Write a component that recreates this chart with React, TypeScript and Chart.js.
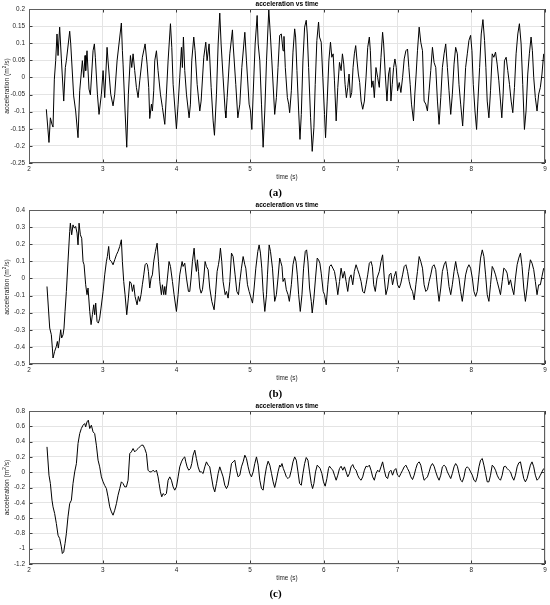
import React, { useEffect, useRef } from "react";
import { Chart, registerables } from "chart.js";
Chart.register(...registerables);

const titleText = "acceleration vs time";
const xLabel = "time (s)";
const yLabelParts = ["acceleration (m", "2", "/s)"];
const panelLabels = ["(a)", "(b)", "(c)"];

const xTicks = [2, 3, 4, 5, 6, 7, 8, 9];
const yTicksA = [-0.25, -0.2, -0.15, -0.1, -0.05, 0, 0.05, 0.1, 0.15, 0.2];
const yTicksB = [-0.5, -0.4, -0.3, -0.2, -0.1, 0, 0.1, 0.2, 0.3, 0.4];
const yTicksC = [-1.2, -1, -0.8, -0.6, -0.4, -0.2, 0, 0.2, 0.4, 0.6, 0.8];

// [time (s), acceleration]
const seriesA: number[][] = [
[2.235,-0.093],[2.271,-0.19],[2.29,-0.118],[2.312,-0.137],[2.326,-0.145],[2.344,-0.005],[2.362,0.049],[2.38,0.127],[2.394,0.064],[2.416,0.147],[2.439,0.054],[2.471,-0.069],[2.493,0.029],[2.507,0.049],[2.552,0.135],[2.566,0.098],[2.606,-0.054],[2.633,-0.098],[2.665,-0.176],[2.688,-0.039],[2.724,0.049],[2.742,0],[2.76,0.064],[2.769,0.02],[2.787,0.078],[2.814,-0.034],[2.833,-0.051],[2.869,0.078],[2.887,0.098],[2.9,0.059],[2.928,-0.049],[2.95,-0.108],[2.982,-0.049],[3.005,0.02],[3.027,-0.059],[3.059,0.088],[3.072,0.049],[3.109,-0.049],[3.14,-0.083],[3.163,-0.049],[3.195,0.049],[3.253,0.159],[3.267,0.078],[3.276,0.039],[3.303,-0.098],[3.326,-0.204],[3.348,-0.049],[3.376,0.064],[3.394,0.029],[3.412,0.069],[3.434,0.02],[3.457,-0.029],[3.48,-0.059],[3.502,-0.01],[3.538,0.059],[3.575,0.098],[3.602,0.039],[3.624,-0.029],[3.638,-0.12],[3.661,-0.078],[3.674,-0.098],[3.692,-0.039],[3.706,0.049],[3.729,0.078],[3.751,0.02],[3.783,-0.049],[3.81,-0.088],[3.842,-0.137],[3.864,-0.049],[3.887,0.049],[3.919,0.157],[3.937,0.088],[3.955,-0.02],[4.0,-0.15],[4.023,-0.078],[4.045,0],[4.068,0.088],[4.081,0.029],[4.095,0.118],[4.113,0.02],[4.136,-0.049],[4.172,-0.118],[4.19,-0.078],[4.208,0.049],[4.235,0.118],[4.253,0.078],[4.281,-0.02],[4.317,-0.098],[4.335,-0.069],[4.371,0.059],[4.398,0.103],[4.416,0.049],[4.443,0.098],[4.471,-0.029],[4.498,-0.127],[4.516,-0.169],[4.543,-0.049],[4.566,0.098],[4.588,0.188],[4.606,0.098],[4.633,0],[4.661,-0.098],[4.67,-0.118],[4.688,-0.059],[4.724,0.069],[4.76,0.139],[4.769,0.098],[4.805,-0.02],[4.833,-0.118],[4.86,-0.078],[4.887,0.029],[4.928,0.132],[4.95,0.049],[4.986,-0.078],[5.005,-0.098],[5.023,-0.152],[5.041,-0.049],[5.068,0.098],[5.095,0.181],[5.109,0.098],[5.131,0.049],[5.154,-0.078],[5.176,-0.204],[5.199,-0.098],[5.222,0.049],[5.253,0.198],[5.276,0.118],[5.294,0.049],
[5.333,-0.108],[5.356,-0.059],[5.378,0.029],[5.401,0.123],[5.423,0.127],[5.446,0.078],[5.459,0.12],[5.477,0.029],[5.505,-0.059],[5.523,-0.078],[5.536,-0.103],[5.559,-0.039],[5.581,0.074],[5.604,0.142],[5.617,0.118],[5.635,0.02],[5.658,-0.098],[5.676,-0.181],[5.694,-0.108],[5.716,0.049],[5.739,0.147],[5.761,0.167],[5.775,0.127],[5.793,0.029],[5.82,-0.118],[5.842,-0.216],[5.865,-0.147],[5.883,-0.02],[5.905,0.108],[5.928,0.162],[5.941,0.118],[5.964,0.103],[5.986,0],[6.009,-0.108],[6.023,-0.176],[6.045,-0.069],[6.068,0.049],[6.09,0.103],[6.108,0.059],[6.126,0.069],[6.144,-0.01],[6.167,-0.127],[6.189,-0.029],[6.212,0.044],[6.234,0.02],[6.252,0.069],[6.27,0.039],[6.288,-0.02],[6.306,-0.059],[6.324,-0.029],[6.342,0.01],[6.36,-0.059],[6.378,-0.044],[6.396,0.029],[6.414,0.069],[6.432,0.093],[6.45,0.049],[6.468,0.01],[6.486,-0.015],[6.505,-0.069],[6.527,-0.093],[6.55,-0.069],[6.572,0],[6.595,0.088],[6.617,0.118],[6.631,0.078],[6.649,-0.029],[6.667,-0.01],[6.685,-0.059],[6.707,0.029],[6.73,0],[6.752,-0.029],[6.775,0.059],[6.797,0.132],[6.811,0.098],[6.833,0.01],[6.856,-0.069],[6.878,0.01],[6.896,0.029],[6.91,-0.069],[6.928,-0.02],[6.946,0.029],[6.964,0.054],[6.982,0.029],[7.0,-0.039],[7.023,-0.015],[7.045,-0.044],[7.068,0],[7.09,0.054],[7.113,0.078],[7.135,0.083],[7.153,0.029],[7.171,-0.02],[7.189,-0.078],[7.216,-0.127],[7.234,-0.049],[7.252,0.01],[7.27,0.078],[7.293,0.147],[7.315,0.103],[7.338,0.078],[7.36,-0.069],[7.383,-0.078],[7.405,-0.098],[7.428,-0.039],[7.45,0.02],[7.473,0.088],[7.495,0.044],[7.518,0.029],[7.541,-0.069],[7.563,-0.137],[7.586,-0.059],[7.608,0.029],[7.631,0.069],[7.653,0.098],[7.676,0.029],[7.698,-0.039],[7.721,-0.108],[7.743,-0.049],[7.766,0.039],[7.788,0.088],[7.811,0.069],[7.833,-0.02],[7.856,-0.078],[7.883,-0.142],[7.901,-0.069],[7.923,0.029],[7.946,0.069],[7.968,0.108],[7.991,0.123],[8.009,0.078],[8.027,-0.02],[8.05,-0.098],[8.072,-0.152],[8.09,-0.069],[8.113,0.029],[8.135,0.127],[8.158,0.169],[8.18,0.108],[8.198,0.029],[8.216,-0.069],[8.239,-0.118],[8.261,-0.039],[8.284,0.069],[8.306,0.059],[8.329,0.074],[8.351,0.039],[8.374,-0.01],[8.396,-0.069],[8.414,-0.118],[8.432,-0.049],[8.45,0.049],[8.473,0.059],[8.495,0.02],[8.518,-0.02],[8.541,-0.069],[8.563,-0.103],[8.586,-0.029],[8.608,0.069],[8.631,0.127],[8.653,0.157],[8.676,0.098],[8.698,-0.02],[8.721,-0.152],[8.743,-0.098],[8.766,0.01],[8.788,0.069],[8.811,0.118],[8.829,0.078],[8.847,0],[8.869,-0.059],[8.892,-0.098],[8.914,-0.049],[8.937,-0.029],[8.959,0.01],[8.982,0.069]
];

const seriesB: number[][] = [
[2.244,-0.047],[2.281,-0.29],[2.303,-0.329],[2.317,-0.407],[2.326,-0.465],[2.348,-0.426],[2.371,-0.397],[2.385,-0.368],[2.398,-0.407],[2.416,-0.348],[2.43,-0.3],[2.443,-0.348],[2.462,-0.329],[2.475,-0.29],[2.489,-0.193],[2.507,-0.076],[2.529,0.099],[2.552,0.274],[2.561,0.323],[2.579,0.255],[2.597,0.313],[2.615,0.294],[2.633,0.304],[2.652,0.265],[2.665,0.196],[2.679,0.323],[2.697,0.255],[2.715,0.235],[2.733,0.099],[2.747,0.08],[2.769,-0.037],[2.787,-0.095],[2.801,-0.056],[2.824,-0.193],[2.842,-0.27],[2.86,-0.212],[2.878,-0.154],[2.891,-0.212],[2.905,-0.144],[2.923,-0.251],[2.941,-0.261],[2.959,-0.232],[2.977,-0.173],[3.005,-0.076],[3.027,0.021],[3.05,0.099],[3.063,0.128],[3.081,0.187],[3.095,0.109],[3.118,0.099],[3.14,0.08],[3.163,0.109],[3.186,0.138],[3.208,0.158],[3.231,0.187],[3.253,0.226],[3.267,0.099],[3.285,-0.018],[3.303,-0.095],[3.326,-0.212],[3.348,-0.115],[3.367,-0.018],[3.385,-0.027],[3.403,-0.076],[3.421,-0.037],[3.439,-0.105],[3.466,-0.154],[3.484,-0.105],[3.502,-0.134],[3.52,-0.095],[3.538,-0.037],[3.557,0.021],[3.575,0.08],[3.593,0.089],[3.606,0.08],[3.62,0.041],[3.638,-0.056],[3.656,0.002],[3.674,0.021],[3.692,0.099],[3.715,0.158],[3.738,0.206],[3.756,0.099],[3.774,-0.018],[3.796,-0.095],[3.81,-0.037],[3.828,-0.095],[3.842,-0.047],[3.855,-0.095],[3.878,0.002],[3.9,0.099],[3.919,0.07],[3.946,-0.018],[3.968,-0.095],[4.0,-0.193],[4.023,-0.095],[4.045,0.021],[4.077,0.099],[4.09,0.07],[4.113,0.089],[4.136,0.002],[4.163,-0.076],[4.181,-0.076],[4.199,0.002],[4.217,0.099],[4.24,0.177],[4.253,0.099],[4.271,0.041],[4.285,0.109],[4.299,0.041],[4.317,-0.056],[4.335,-0.086],[4.353,-0.066],[4.371,0.002],[4.389,0.099],[4.407,0.07],[4.43,0.051],[4.452,-0.056],[4.48,-0.134],[4.511,-0.183],[4.529,-0.095],[4.552,0.041],[4.57,0.08],[4.584,0.119],[4.597,0.177],[4.615,0.099],[4.633,-0.018],[4.661,-0.095],[4.679,-0.076],[4.701,-0.115],[4.724,-0.018],[4.747,0.148],[4.769,0.128],[4.796,0.021],[4.819,-0.076],[4.842,-0.095],[4.86,-0.018],[4.882,0.06],[4.905,0.128],[4.928,0.08],[4.941,0.06],[4.964,-0.037],[4.986,-0.076],[5.032,-0.144],[5.054,-0.056],[5.077,0.06],[5.104,0.158],[5.122,0.196],[5.14,0.148],[5.158,0.06],[5.176,-0.076],[5.199,-0.193],[5.222,-0.095],[5.235,0.021],[5.258,0.196],[5.276,0.158],[5.303,0.06],
[5.333,-0.134],[5.356,-0.095],[5.378,0.002],[5.401,0.119],[5.414,0.099],[5.432,0.07],[5.446,-0.018],[5.468,0.002],[5.491,-0.066],[5.514,-0.095],[5.532,-0.134],[5.559,-0.037],[5.581,0.08],[5.604,0.128],[5.622,0.099],[5.64,0.021],[5.658,-0.095],[5.68,-0.193],[5.703,-0.095],[5.725,0.06],[5.748,0.158],[5.766,0.167],[5.784,0.099],[5.806,-0.056],[5.829,-0.134],[5.842,-0.202],[5.865,-0.115],[5.887,0.002],[5.91,0.119],[5.928,0.109],[5.946,0.089],[5.964,0.031],[5.991,-0.076],[6.009,-0.095],[6.032,-0.154],[6.054,-0.037],[6.077,0.07],[6.099,0.08],[6.122,0.06],[6.144,0.041],[6.167,-0.018],[6.189,-0.095],[6.212,-0.018],[6.234,0.06],[6.257,0.002],[6.279,0.041],[6.302,-0.018],[6.324,-0.076],[6.347,0.002],[6.369,0.021],[6.392,-0.037],[6.414,0.041],[6.437,0.08],[6.459,0.051],[6.482,0.021],[6.505,-0.018],[6.527,-0.076],[6.55,-0.086],[6.572,-0.037],[6.595,0.021],[6.617,0.089],[6.64,0.099],[6.658,0.07],[6.676,-0.037],[6.698,-0.076],[6.721,0.002],[6.752,0.041],[6.775,0.099],[6.797,0.138],[6.82,0.002],[6.842,-0.095],[6.865,-0.056],[6.887,0.021],[6.91,0.031],[6.932,-0.037],[6.955,0.012],[6.977,0.041],[7.0,-0.037],[7.023,-0.056],[7.045,-0.027],[7.068,0.021],[7.09,0.07],[7.113,0.08],[7.135,0.041],[7.158,-0.018],[7.18,-0.056],[7.203,-0.076],[7.225,-0.125],[7.248,-0.037],[7.27,0.041],[7.293,0.128],[7.315,0.099],[7.338,0.06],[7.36,-0.037],[7.383,-0.076],[7.405,-0.066],[7.428,-0.018],[7.45,0.021],[7.473,0.07],[7.495,0.08],[7.518,0.051],[7.541,-0.056],[7.563,-0.134],[7.586,-0.056],[7.608,0.041],[7.631,0.08],[7.653,0.099],[7.676,0.041],[7.698,-0.047],[7.721,-0.095],[7.743,-0.037],[7.766,0.041],[7.788,0.099],[7.811,0.041],[7.833,0.002],[7.856,-0.076],[7.878,-0.134],[7.901,-0.056],[7.923,0.021],[7.946,0.06],[7.968,0.08],[7.991,0.06],[8.014,0.002],[8.036,-0.076],[8.059,-0.105],[8.081,-0.076],[8.104,0.021],[8.126,0.119],[8.149,0.167],[8.171,0.128],[8.194,0.021],[8.216,-0.095],[8.239,-0.134],[8.261,-0.037],[8.284,0.07],[8.306,0.051],[8.329,0.021],[8.351,-0.018],[8.374,-0.056],[8.396,-0.095],[8.419,-0.018],[8.441,0.06],[8.464,0.051],[8.486,0.031],[8.509,-0.037],[8.532,-0.008],[8.554,-0.056],[8.577,-0.095],[8.599,0.002],[8.622,0.08],[8.644,0.119],[8.667,0.148],[8.689,0.07],[8.712,-0.056],[8.734,-0.134],[8.757,-0.056],[8.779,0.041],[8.802,0.109],[8.824,0.089],[8.847,0.051],[8.869,-0.018],[8.892,-0.095],[8.914,-0.037],[8.937,-0.037],[8.959,0.012],[8.982,0.06]
];

const seriesC: number[][] = [
[2.244,0.331],[2.271,-0.039],[2.29,-0.148],[2.312,-0.366],[2.326,-0.453],[2.348,-0.54],[2.371,-0.671],[2.394,-0.824],[2.416,-0.867],[2.439,-0.976],[2.452,-1.063],[2.471,-1.041],[2.489,-0.932],[2.507,-0.802],[2.529,-0.584],[2.552,-0.41],[2.575,-0.366],[2.597,-0.148],[2.62,0.004],[2.643,0.113],[2.665,0.375],[2.688,0.505],[2.71,0.571],[2.733,0.614],[2.756,0.636],[2.769,0.593],[2.787,0.658],[2.805,0.68],[2.824,0.571],[2.846,0.614],[2.869,0.527],[2.891,0.505],[2.914,0.353],[2.937,0.157],[2.959,0.07],[2.982,-0.061],[3.005,-0.126],[3.027,-0.174],[3.05,-0.214],[3.072,-0.322],[3.095,-0.453],[3.118,-0.519],[3.14,-0.562],[3.163,-0.497],[3.186,-0.41],[3.208,-0.301],[3.231,-0.214],[3.253,-0.126],[3.276,-0.148],[3.299,-0.192],[3.321,-0.192],[3.344,-0.105],[3.367,0.244],[3.389,0.266],[3.412,0.309],[3.434,0.266],[3.457,0.288],[3.48,0.309],[3.502,0.331],[3.525,0.353],[3.548,0.353],[3.57,0.309],[3.593,0.244],[3.615,0.026],[3.638,0.004],[3.661,0.004],[3.683,0.026],[3.706,0.004],[3.729,0.026],[3.751,-0.061],[3.765,-0.148],[3.783,-0.257],[3.801,-0.322],[3.819,-0.279],[3.842,-0.301],[3.864,-0.279],[3.887,-0.105],[3.91,-0.061],[3.932,-0.105],[3.955,-0.192],[3.977,-0.235],[4.0,-0.192],[4.023,-0.061],[4.045,0.07],[4.068,0.135],[4.09,0.179],[4.113,0.2],[4.127,0.135],[4.145,0.07],[4.167,0.026],[4.19,0.048],[4.208,0.113],[4.226,0.222],[4.249,0.288],[4.271,0.179],[4.294,0.07],[4.317,0.004],[4.339,0.004],[4.362,-0.017],[4.385,0.07],[4.407,0.135],[4.43,0.092],[4.452,0.07],[4.475,-0.061],[4.498,-0.192],[4.52,-0.257],[4.543,-0.148],[4.566,-0.017],[4.588,0.07],[4.611,0.004],[4.633,-0.061],[4.656,-0.17],[4.679,-0.214],[4.701,-0.17],[4.724,-0.039],[4.747,0.113],[4.769,0.135],[4.792,0.157],[4.814,0.026],[4.837,-0.061],[4.86,-0.039],[4.882,0.07],[4.905,0.135],[4.928,0.222],[4.95,0.179],[4.973,0.07],[4.995,-0.017],[5.018,-0.061],[5.041,0.004],[5.063,0.113],[5.086,0.2],[5.109,0.092],[5.131,-0.105],[5.154,-0.214],[5.176,-0.235],[5.199,-0.061],[5.222,0.07],[5.244,0.144],[5.267,0.092],[5.29,-0.017],[5.312,-0.126],
[5.333,-0.2],[5.356,-0.105],[5.378,0.004],[5.401,0.092],[5.414,0.07],[5.432,0.113],[5.45,0.048],[5.468,0.004],[5.491,-0.061],[5.514,-0.083],[5.536,-0.061],[5.559,0.026],[5.581,0.135],[5.604,0.2],[5.626,0.157],[5.649,0.004],[5.671,-0.148],[5.694,-0.17],[5.716,-0.017],[5.739,0.113],[5.761,0.192],[5.784,0.157],[5.806,0.004],[5.829,-0.148],[5.847,-0.214],[5.865,-0.148],[5.887,0.004],[5.91,0.092],[5.932,0.07],[5.95,0.048],[5.973,-0.017],[5.995,-0.126],[6.018,-0.183],[6.041,-0.083],[6.063,0.048],[6.077,0.078],[6.099,0.048],[6.122,0.026],[6.144,-0.039],[6.167,-0.105],[6.189,-0.039],[6.212,0.048],[6.234,0.078],[6.257,0.026],[6.279,0.07],[6.302,0.004],[6.324,-0.061],[6.347,-0.017],[6.369,0.07],[6.392,0.1],[6.414,0.048],[6.437,0.026],[6.459,-0.039],[6.482,-0.083],[6.505,-0.105],[6.527,-0.061],[6.55,0.026],[6.572,0.078],[6.595,0.07],[6.617,0.092],[6.64,0.026],[6.662,-0.061],[6.685,-0.105],[6.707,-0.017],[6.73,0.026],[6.752,0.004],[6.775,0.07],[6.797,0.135],[6.82,0.026],[6.842,-0.061],[6.865,-0.083],[6.887,0.004],[6.91,0.026],[6.932,-0.039],[6.955,0.026],[6.977,0.048],[7.0,-0.039],[7.023,-0.061],[7.045,-0.017],[7.068,0.026],[7.09,0.07],[7.113,0.092],[7.135,0.048],[7.158,0.004],[7.18,-0.061],[7.203,-0.096],[7.225,-0.039],[7.248,0.048],[7.27,0.113],[7.293,0.135],[7.315,0.092],[7.338,-0.017],[7.36,-0.105],[7.383,-0.083],[7.405,-0.061],[7.428,0.004],[7.45,0.078],[7.473,0.113],[7.495,0.078],[7.518,0.004],[7.541,-0.061],[7.563,-0.105],[7.586,-0.039],[7.608,0.07],[7.631,0.092],[7.653,0.07],[7.676,0.004],[7.698,-0.039],[7.721,-0.083],[7.743,-0.017],[7.766,0.07],[7.788,0.113],[7.811,0.078],[7.833,-0.017],[7.856,-0.105],[7.878,-0.126],[7.901,-0.061],[7.923,0.048],[7.946,0.07],[7.968,0.048],[7.991,0.004],[8.014,-0.039],[8.036,-0.105],[8.059,-0.126],[8.081,-0.061],[8.104,0.07],[8.126,0.157],[8.149,0.179],[8.171,0.092],[8.194,-0.017],[8.216,-0.126],[8.239,-0.126],[8.261,-0.039],[8.284,0.092],[8.306,0.07],[8.329,0.026],[8.351,-0.039],[8.374,-0.083],[8.396,-0.105],[8.419,-0.039],[8.441,0.07],[8.464,0.078],[8.486,0.048],[8.509,0.026],[8.532,0.004],[8.554,-0.061],[8.577,-0.105],[8.599,-0.039],[8.622,0.07],[8.644,0.122],[8.667,0.135],[8.689,0.026],[8.712,-0.083],[8.734,-0.126],[8.757,-0.083],[8.779,0.004],[8.802,0.092],[8.824,0.135],[8.847,0.07],[8.869,-0.039],[8.892,-0.105],[8.914,-0.083],[8.937,-0.039],[8.959,0.004],[8.982,0.048]
];

const SANS = "'Liberation Sans', Arial, Helvetica, sans-serif";
const SERIF = "'Liberation Serif', 'Times New Roman', serif";

type PanelProps = {
  series: number[][];
  yTicks: number[];
  label: string;
  height: number;
  top: number;
  bottom: number;
};

function Panel({ series, yTicks, label, height, top, bottom }: PanelProps) {
  const ref = useRef<HTMLCanvasElement | null>(null);
  useEffect(() => {
    if (!ref.current) return;
    const deco = {
      id: "deco",
      beforeDatasetsDraw(chart: any) {
        const { ctx, chartArea: a, scales } = chart;
        ctx.save();
        ctx.strokeStyle = "#3c3c3c";
        ctx.lineWidth = 1;
        ctx.beginPath();
        for (const v of xTicks) {
          const px = Math.round(scales.x.getPixelForValue(v)) + 0.5;
          ctx.moveTo(px, a.bottom);
          ctx.lineTo(px, a.bottom - 3.5);
          ctx.moveTo(px, a.top);
          ctx.lineTo(px, a.top + 3.5);
        }
        for (const v of yTicks) {
          const py = Math.round(scales.y.getPixelForValue(v)) + 0.5;
          ctx.moveTo(a.left, py);
          ctx.lineTo(a.left + 3.5, py);
          ctx.moveTo(a.right, py);
          ctx.lineTo(a.right - 3.5, py);
        }
        ctx.stroke();
        ctx.restore();
      },
      afterDraw(chart: any) {
        const { ctx, chartArea: a } = chart;
        ctx.save();
        ctx.strokeStyle = "#5e5e5e";
        ctx.lineWidth = 1;
        ctx.strokeRect(a.left + 0.5, a.top + 0.5, a.right - a.left - 1, a.bottom - a.top - 1);
        const cx = (a.left + a.right) / 2;
        ctx.textAlign = "center";
        ctx.textBaseline = "middle";
        ctx.fillStyle = "#000";
        ctx.font = "bold 6.6px " + SANS;
        ctx.fillText(titleText, cx, a.top - 4.7);
        ctx.fillStyle = "#262626";
        ctx.font = "6.4px " + SANS;
        ctx.fillText(xLabel, cx, a.bottom + 14.5);
        // rotated y label with superscript
        ctx.save();
        ctx.translate(7.3, (a.top + a.bottom) / 2);
        ctx.rotate(-Math.PI / 2);
        const mainFont = "6.7px " + SANS;
        const supFont = "4.6px " + SANS;
        ctx.font = mainFont;
        const w0 = ctx.measureText(yLabelParts[0]).width;
        const w2 = ctx.measureText(yLabelParts[2]).width;
        ctx.font = supFont;
        const w1 = ctx.measureText(yLabelParts[1]).width;
        const total = w0 + w1 + w2;
        let x0 = -total / 2;
        ctx.textAlign = "left";
        ctx.font = mainFont;
        ctx.fillText(yLabelParts[0], x0, 0);
        x0 += w0;
        ctx.font = supFont;
        ctx.fillText(yLabelParts[1], x0, -2.2);
        x0 += w1;
        ctx.font = mainFont;
        ctx.fillText(yLabelParts[2], x0, 0);
        ctx.restore();
        ctx.textAlign = "center";
        ctx.fillStyle = "#000";
        ctx.font = "bold 11px " + SERIF;
        ctx.fillText(label, 275.5, a.bottom + 30);
        ctx.restore();
      },
    };
    const chart = new Chart(ref.current, {
      type: "line",
      data: {
        datasets: [
          {
            data: series.map((p) => ({ x: p[0], y: p[1] })),
            borderColor: "#000",
            borderWidth: 1,
            pointRadius: 0,
            tension: 0,
            fill: false,
          },
        ],
      },
      options: {
        animation: false,
        responsive: false,
        devicePixelRatio: 1,
        layout: { padding: { top: top, right: 5, left: 0, bottom: 0 } },
        plugins: { legend: { display: false }, title: { display: false }, tooltip: { enabled: false } },
        scales: {
          x: {
            type: "linear",
            min: 2,
            max: 9,
            afterBuildTicks: (s: any) => {
              s.ticks = xTicks.map((v) => ({ value: v }));
            },
            afterFit: (s: any) => {
              s.height = height - bottom;
            },
            grid: { color: "#e4e4e4", lineWidth: 1, drawTicks: false },
            border: { display: false },
            ticks: {
              padding: 2,
              color: "#262626",
              font: { family: SANS, size: 6.4 },
              maxRotation: 0,
              autoSkip: false,
              callback: (v: any) => String(v),
            },
          },
          y: {
            type: "linear",
            min: yTicks[0],
            max: yTicks[yTicks.length - 1],
            afterBuildTicks: (s: any) => {
              s.ticks = yTicks.map((v) => ({ value: v }));
            },
            afterFit: (s: any) => {
              s.width = 29;
            },
            grid: { color: "#e4e4e4", lineWidth: 1, drawTicks: false },
            border: { display: false },
            ticks: {
              padding: 4,
              color: "#262626",
              font: { family: SANS, size: 6.4 },
              autoSkip: false,
              callback: (v: any) => String(v),
            },
          },
        },
      },
      plugins: [deco],
    } as any);
    return () => chart.destroy();
  }, [series, yTicks, label, height, top, bottom]);
  return <canvas ref={ref} width={550} height={height} style={{ display: "block", width: 550, height }} />;
}

export default function App() {
  return (
    <div style={{ position: "absolute", left: 0, top: 0, width: 550, height: 605, background: "#fff" }}>
      <Panel series={seriesA} yTicks={yTicksA} label={panelLabels[0]} height={200} top={9} bottom={163} />
      <Panel series={seriesB} yTicks={yTicksB} label={panelLabels[1]} height={200} top={10} bottom={164} />
      <Panel series={seriesC} yTicks={yTicksC} label={panelLabels[2]} height={205} top={11} bottom={164} />
    </div>
  );
}
